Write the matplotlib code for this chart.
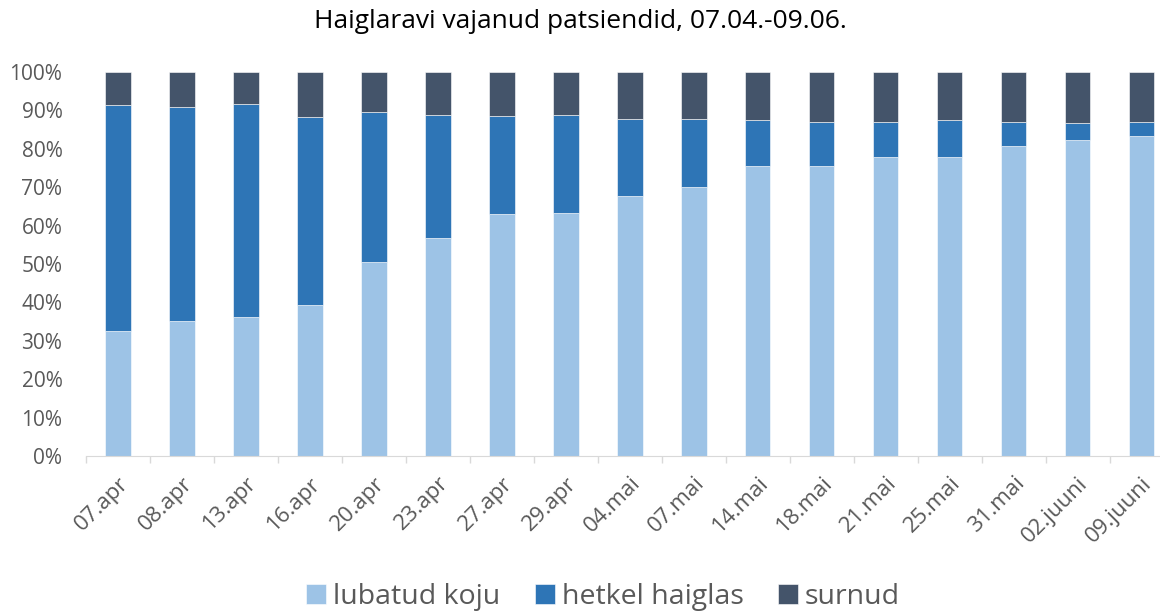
import numpy as np
import matplotlib.pyplot as plt
from matplotlib.ticker import PercentFormatter

plt.rcParams["font.family"] = ["Open Sans", "DejaVu Sans"]

dates = ["07.apr", "08.apr", "13.apr", "16.apr", "20.apr", "23.apr", "27.apr", "29.apr",
         "04.mai", "07.mai", "14.mai", "18.mai", "21.mai", "25.mai", "31.mai", "02.juuni", "09.juuni"]

# share of patients (%)
lubatud_koju = [32.5, 35.2, 36.3, 39.3, 50.5, 56.8, 62.9, 63.3,
                67.8, 70.0, 75.4, 75.4, 77.9, 77.9, 80.6, 82.2, 83.4]
hetkel_haiglas = [58.9, 55.7, 55.4, 48.9, 39.0, 31.9, 25.7, 25.4,
                  20.0, 17.8, 12.0, 11.5, 9.2, 9.5, 6.3, 4.5, 3.5]
surnud = [8.6, 9.1, 8.3, 11.8, 10.5, 11.3, 11.4, 11.3,
          12.2, 12.2, 12.6, 13.1, 12.9, 12.6, 13.1, 13.3, 13.1]

colors = ["#9DC3E6", "#2E75B6", "#44546A"]
labels = ["lubatud koju", "hetkel haiglas", "surnud"]
text_col = "#595959"

fig = plt.figure(figsize=(11.6, 6.14), dpi=100)
ax = fig.add_axes([86 / 1160, 158 / 614, 1087.5 / 1160, 384 / 614])

x = np.arange(len(dates))
bottom = np.zeros(len(dates))
for vals, col, lab in zip([lubatud_koju, hetkel_haiglas, surnud], colors, labels):
    ax.bar(x, vals, width=0.4, bottom=bottom, color=col, label=lab,
           edgecolor="white", linewidth=0.4)
    bottom += np.array(vals)

ax.set_xlim(-0.5, len(dates) - 0.5)
ax.set_ylim(0, 100)
ax.set_yticks(np.arange(0, 101, 10))
ax.yaxis.set_major_formatter(PercentFormatter(decimals=0))
ax.tick_params(axis="y", length=0, labelsize=15, colors=text_col, pad=17)

ax.set_xticks(x)
ax.set_xticklabels(dates, rotation=45, ha="right", rotation_mode="anchor")
ax.set_xticks(np.arange(-0.5, len(dates), 1), minor=True)
ax.tick_params(axis="x", which="major", length=0, labelsize=16, colors=text_col, pad=12)
ax.tick_params(axis="x", which="minor", length=5, color="#D9D9D9", width=1)

for side in ["top", "right", "left"]:
    ax.spines[side].set_visible(False)
ax.spines["bottom"].set_color("#D9D9D9")

fig.text(0.5, 1 - 22 / 614, "Haiglaravi vajanud patsiendid, 07.04.-09.06.",
         ha="center", va="center", fontsize=19, color="#000000")

fig.legend(loc="center", bbox_to_anchor=(0.52, 1 - 597 / 614), ncol=3, frameon=False,
           fontsize=20.5, labelcolor=text_col, handlelength=0.7, handleheight=0.7,
           handletextpad=0.25, columnspacing=1.2)

fig.savefig("out.png", dpi=100)
